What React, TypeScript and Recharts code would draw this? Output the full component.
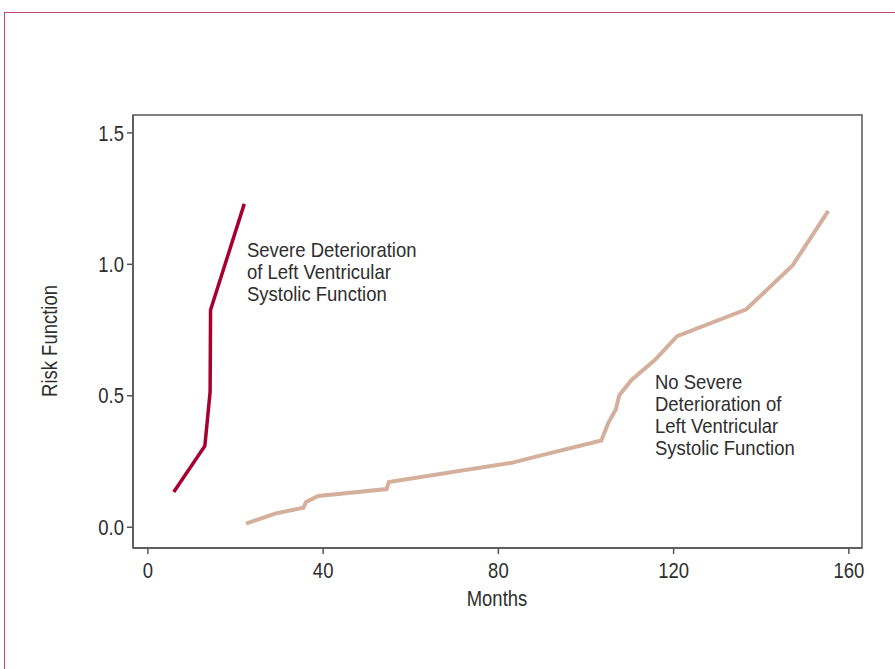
import React from "react";
import {
  LineChart,
  Line,
  XAxis,
  YAxis,
  ReferenceArea,
} from "recharts";

// Severe deterioration of LV systolic function (months, risk)
const severeMonths = [5.9, 13.0, 14.2, 14.3, 22.0];
const severeRisk = [0.134, 0.309, 0.515, 0.826, 1.23];

// No severe deterioration
const noSevereMonths = [
  22.4, 29.0, 35.5, 36.1, 38.9, 54.5, 55.0, 83.0, 90.2, 103.5, 105.1, 106.8,
  107.6, 110.4, 115.7, 120.8, 136.6, 147.2, 155.3,
];
const noSevereRisk = [
  0.014, 0.052, 0.074, 0.096, 0.119, 0.145, 0.172, 0.245, 0.275, 0.33, 0.397,
  0.448, 0.502, 0.56, 0.636, 0.727, 0.829, 0.997, 1.203,
];

const xTicks = [0, 40, 80, 120, 160];
const yTicks = [0, 0.5, 1.0, 1.5];

const severeData = severeMonths.map((m, i) => ({ month: m, risk: severeRisk[i] }));
const noSevereData = noSevereMonths.map((m, i) => ({ month: m, risk: noSevereRisk[i] }));

const FONT = "'Liberation Sans', Arial, sans-serif";
const FS = 22;
const SQUEEZE = 0.84; // condensed look of the original typeface
const X_DOMAIN: [number, number] = [-3.4, 163];
const Y_DOMAIN: [number, number] = [-0.079, 1.568];
const TEXT = "#2e2e2e";

// tick text squeezed horizontally
function Tick(props: any) {
  const { x, y, payload, textAnchor, fmt } = props;
  const label = fmt ? fmt(payload.value) : String(payload.value);
  const isX = textAnchor === "middle";
  return (
    <g transform={`translate(${x},${y})`}>
      <text
        transform={`scale(${SQUEEZE},1)`}
        textAnchor={textAnchor}
        dy={isX ? "0.9em" : "0.35em"}
        fontSize={FS}
        fontFamily={FONT}
        fill={TEXT}
      >
        {label}
      </text>
    </g>
  );
}

const noteStyle: React.CSSProperties = {
  position: "absolute",
  fontFamily: FONT,
  fontSize: 21,
  lineHeight: "22px",
  color: TEXT,
  whiteSpace: "nowrap",
  transform: "scaleX(0.88)",
  transformOrigin: "left top",
};

export default function App() {
  return (
    <div style={{ position: "absolute", left: 0, top: 0, width: 895, height: 669, background: "#fff" }}>
      <div
        style={{
          position: "absolute",
          left: 4,
          top: 12,
          right: 0,
          bottom: 0,
          borderLeft: "1.5px solid #c34a6c",
          borderTop: "1.5px solid #c34a6c",
        }}
      />
      <LineChart
        width={895}
        height={669}
        margin={{ top: 115, right: 33, bottom: 0, left: 0 }}
        style={{ position: "absolute", left: 0, top: 0 }}
      >
        <XAxis
          dataKey="month"
          type="number"
          domain={X_DOMAIN}
          ticks={xTicks}
          allowDataOverflow
          tick={<Tick />}
          tickSize={6}
          tickMargin={4}
          axisLine={{ stroke: "#555", strokeWidth: 1.5 }}
          tickLine={{ stroke: "#555", strokeWidth: 1.5 }}
          height={121}
          label={{
            content: () => (
              <text
                transform={`translate(497,606) scale(${SQUEEZE},1)`}
                textAnchor="middle"
                fontSize={FS}
                fontFamily={FONT}
                fill={TEXT}
              >
                Months
              </text>
            ),
          }}
        />
        <YAxis
          dataKey="risk"
          type="number"
          domain={Y_DOMAIN}
          ticks={yTicks}
          allowDataOverflow
          tick={<Tick fmt={(v: number) => v.toFixed(1)} />}
          tickSize={6}
          tickMargin={3}
          axisLine={{ stroke: "#555", strokeWidth: 1.5 }}
          tickLine={{ stroke: "#555", strokeWidth: 1.5 }}
          width={133}
          label={{
            content: () => (
              <text
                transform={`translate(57,341) rotate(-90) scale(${SQUEEZE},1)`}
                textAnchor="middle"
                fontSize={FS}
                fontFamily={FONT}
                fill={TEXT}
              >
                Risk Function
              </text>
            ),
          }}
        />
        <ReferenceArea
          x1={X_DOMAIN[0]}
          x2={X_DOMAIN[1]}
          y1={Y_DOMAIN[0]}
          y2={Y_DOMAIN[1]}
          fill="none"
          stroke="#555"
          strokeWidth={1.5}
        />
        <Line
          data={noSevereData}
          dataKey="risk"
          type="linear"
          stroke="#d4b09c"
          strokeWidth={4}
          dot={false}
          isAnimationActive={false}
        />
        <Line
          data={severeData}
          dataKey="risk"
          type="linear"
          stroke="#a8002f"
          strokeWidth={3.5}
          dot={false}
          isAnimationActive={false}
        />
      </LineChart>
      <div style={{ ...noteStyle, left: 247, top: 239 }}>
        Severe Deterioration
        <br />
        of Left Ventricular
        <br />
        Systolic Function
      </div>
      <div style={{ ...noteStyle, left: 655, top: 371 }}>
        No Severe
        <br />
        Deterioration of
        <br />
        Left Ventricular
        <br />
        Systolic Function
      </div>
    </div>
  );
}
